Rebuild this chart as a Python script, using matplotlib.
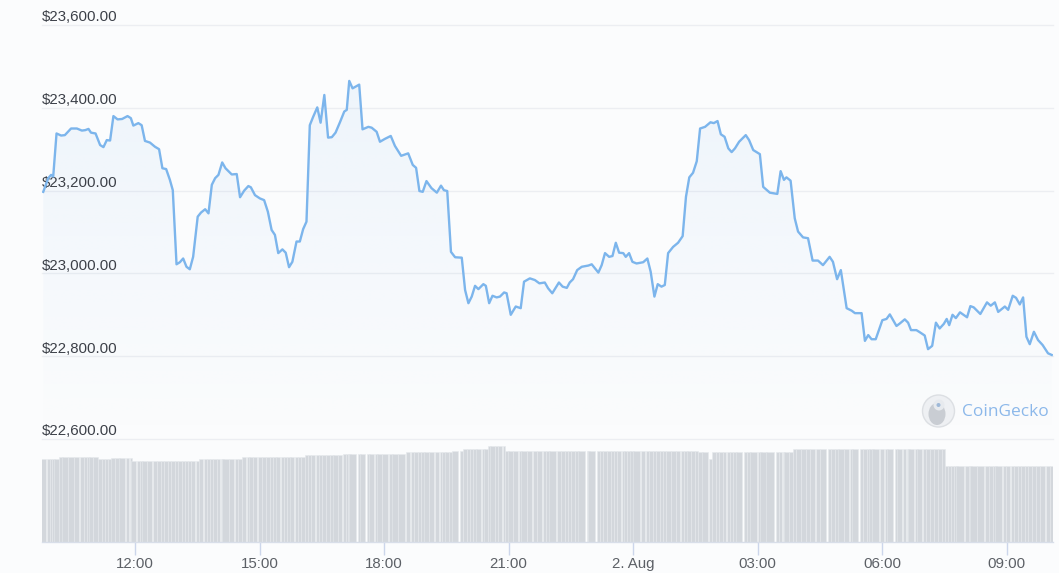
import matplotlib
matplotlib.use('Agg')
import matplotlib.pyplot as plt
import numpy as np
from matplotlib import font_manager
from matplotlib.patches import Circle, Ellipse

# ---------------- data ----------------
hours = [
    9.79, 9.91, 9.98, 10.03, 10.11, 10.22, 10.31, 10.46, 10.60, 10.72,
    10.80, 10.88, 10.94, 11.05, 11.16, 11.24, 11.32, 11.40, 11.48, 11.58,
    11.69, 11.82, 11.90, 11.96, 12.08, 12.16, 12.24, 12.36, 12.48, 12.58,
    12.66, 12.75, 12.84, 12.91, 13.00, 13.08, 13.16, 13.24, 13.32, 13.40,
    13.51, 13.59, 13.69, 13.77, 13.85, 13.93, 14.01, 14.10, 14.18, 14.33,
    14.45, 14.53, 14.63, 14.73, 14.79, 14.89, 15.01, 15.11, 15.20, 15.29,
    15.37, 15.45, 15.55, 15.63, 15.71, 15.79, 15.89, 15.97, 16.05, 16.13,
    16.21, 16.29, 16.39, 16.47, 16.56, 16.65, 16.74, 16.83, 16.94, 17.04,
    17.10, 17.16, 17.24, 17.40, 17.48, 17.62, 17.70, 17.82, 17.90, 18.02,
    18.16, 18.26, 18.41, 18.58, 18.69, 18.77, 18.85, 18.93, 19.02, 19.14,
    19.27, 19.37, 19.44, 19.52, 19.61, 19.71, 19.87, 19.95, 20.03, 20.11,
    20.19, 20.27, 20.39, 20.45, 20.53, 20.61, 20.71, 20.79, 20.89, 20.95,
    21.05, 21.17, 21.29, 21.37, 21.51, 21.63, 21.74, 21.87, 21.95, 22.05,
    22.21, 22.30, 22.40, 22.47, 22.55, 22.65, 22.76, 22.92, 23.00, 23.16,
    23.24, 23.32, 23.42, 23.50, 23.58, 23.66, 23.76, 23.82, 23.90, 23.98,
    24.08, 24.24, 24.34, 24.42, 24.51, 24.59, 24.68, 24.76, 24.84, 24.96,
    25.08, 25.19, 25.27, 25.35, 25.44, 25.53, 25.61, 25.73, 25.86, 25.94,
    26.03, 26.11, 26.20, 26.29, 26.37, 26.45, 26.55, 26.71, 26.79, 26.89,
    27.05, 27.13, 27.29, 27.47, 27.55, 27.63, 27.69, 27.79, 27.89, 27.97,
    28.09, 28.21, 28.32, 28.45, 28.57, 28.73, 28.81, 28.91, 29.00, 29.14,
    29.26, 29.34, 29.50, 29.58, 29.66, 29.74, 29.84, 30.00, 30.10, 30.18,
    30.34, 30.42, 30.54, 30.62, 30.69, 30.82, 30.90, 31.02, 31.10, 31.20,
    31.29, 31.38, 31.48, 31.55, 31.61, 31.69, 31.77, 31.87, 32.04, 32.12,
    32.20, 32.36, 32.52, 32.61, 32.71, 32.79, 32.95, 33.03, 33.14, 33.22,
    33.31, 33.39, 33.47, 33.55, 33.65, 33.75, 33.86, 33.99, 34.08,
]

prices = [
    23197, 23230, 23238, 23234, 23338, 23333, 23334, 23350, 23350, 23345,
    23346, 23349, 23340, 23338, 23310, 23305, 23322, 23321, 23380, 23372,
    23373, 23380, 23375, 23357, 23363, 23358, 23320, 23316, 23306, 23300,
    23254, 23252, 23226, 23201, 23022, 23027, 23036, 23016, 23010, 23040,
    23137, 23147, 23155, 23145, 23214, 23230, 23238, 23268, 23254, 23239,
    23240, 23184, 23200, 23211, 23208, 23189, 23181, 23177, 23149, 23105,
    23093, 23049, 23058, 23050, 23015, 23028, 23077, 23077, 23107, 23125,
    23358, 23378, 23401, 23364, 23431, 23328, 23329, 23340, 23366, 23391,
    23395, 23465, 23447, 23456, 23348, 23354, 23352, 23342, 23318, 23325,
    23332, 23308, 23284, 23290, 23262, 23255, 23199, 23197, 23223, 23206,
    23195, 23212, 23201, 23199, 23052, 23039, 23038, 22960, 22928, 22944,
    22970, 22962, 22974, 22970, 22928, 22946, 22942, 22944, 22954, 22952,
    22900, 22920, 22916, 22980, 22988, 22984, 22976, 22978, 22964, 22952,
    22978, 22968, 22965, 22978, 22986, 23008, 23016, 23019, 23022, 23002,
    23020, 23049, 23040, 23042, 23074, 23050, 23049, 23040, 23049, 23028,
    23024, 23027, 23036, 23004, 22944, 22974, 22968, 22972, 23049, 23064,
    23074, 23090, 23185, 23232, 23243, 23271, 23350, 23354, 23365, 23363,
    23368, 23336, 23330, 23302, 23293, 23302, 23318, 23334, 23322, 23298,
    23288, 23209, 23195, 23192, 23247, 23226, 23232, 23224, 23133, 23101,
    23087, 23085, 23031, 23031, 23020, 23040, 23028, 22986, 23008, 22916,
    22910, 22904, 22904, 22837, 22851, 22841, 22841, 22887, 22890, 22901,
    22873, 22879, 22889, 22881, 22863, 22863, 22858, 22850, 22817, 22825,
    22881, 22867, 22878, 22890, 22875, 22900, 22892, 22906, 22894, 22921,
    22918, 22902, 22930, 22922, 22930, 22907, 22920, 22912, 22946, 22941,
    22925, 22942, 22847, 22829, 22859, 22839, 22827, 22807, 22803,
]

# total volume, billions USD
volume = [
    26.6, 26.6, 26.6, 26.6, 26.6, 27.2, 27.2, 27.2, 27.2, 27.2,
    27.2, 27.2, 27.2, 27.2, 26.6, 26.6, 26.6, 26.6, 27.0, 27.0,
    27.0, 27.0, 27.0, 25.9, 25.9, 25.9, 25.9, 25.9, 25.9, 25.9,
    25.9, 25.9, 25.9, 25.9, 25.9, 25.9, 25.9, 25.9, 25.9, 25.9,
    25.9, 26.6, 26.6, 26.6, 26.6, 26.6, 26.6, 26.6, 26.6, 26.6,
    26.6, 26.6, 27.2, 27.2, 27.2, 27.2, 27.2, 27.2, 27.2, 27.2,
    27.2, 27.2, 27.2, 27.2, 27.2, 27.2, 27.2, 27.2, 27.2, 27.9,
    27.9, 27.9, 27.9, 27.9, 27.9, 27.9, 27.9, 27.9, 27.9, 28.3,
    28.3, 28.3, 28.3, 28.3, 28.3, 28.3, 28.3, 28.3, 28.3, 28.3,
    28.3, 28.3, 28.3, 28.8, 28.8, 28.8, 28.8, 28.8, 28.8, 28.8,
    28.8, 28.8, 28.8, 28.8, 28.8, 29.2, 29.2, 29.8, 29.8, 29.8,
    29.8, 29.8, 29.8, 29.8, 30.8, 30.8, 30.8, 30.8, 30.8, 29.2,
    29.2, 29.2, 29.2, 29.2, 29.2, 29.2, 29.2, 29.2, 29.2, 29.2,
    29.2, 29.2, 29.2, 29.2, 29.2, 29.2, 29.2, 29.2, 29.2, 29.2,
    29.2, 29.2, 29.2, 29.2, 29.2, 29.2, 29.2, 29.2, 29.2, 29.2,
    29.2, 29.2, 29.2, 29.2, 29.2, 29.2, 29.2, 29.2, 29.2, 29.2,
    29.2, 29.2, 29.2, 29.2, 29.2, 29.2, 28.9, 28.9, 26.5, 28.9,
    28.9, 28.9, 28.9, 28.9, 28.9, 28.9, 28.9, 28.9, 28.9, 28.9,
    28.9, 28.9, 28.9, 28.9, 28.9, 28.9, 28.9, 28.9, 29.7, 29.7,
    29.7, 29.7, 29.7, 29.7, 29.7, 29.7, 29.7, 29.7, 29.7, 29.7,
    29.7, 29.7, 29.7, 29.7, 29.7, 29.7, 29.7, 29.7, 29.7, 29.7,
    29.7, 29.7, 29.7, 29.7, 29.7, 29.7, 29.7, 29.7, 29.7, 29.7,
    29.7, 29.7, 29.7, 24.3, 24.3, 24.3, 24.3, 24.3, 24.3, 24.3,
    24.3, 24.3, 24.3, 24.3, 24.3, 24.3, 24.3, 24.3, 24.3, 24.3,
    24.3, 24.3, 24.3, 24.3, 24.3, 24.3, 24.3, 24.3, 24.3,
]

tick_hours = [12, 15, 18, 21, 24, 27, 30, 33]
tick_labels = ['12:00', '15:00', '18:00', '21:00', '2. Aug', '03:00', '06:00', '09:00']
price_ticks = [22600, 22800, 23000, 23200, 23400, 23600]
price_labels = ['$22,600.00', '$22,800.00', '$23,000.00', '$23,200.00', '$23,400.00', '$23,600.00']

# ---------------- style ----------------
available = {f.name for f in font_manager.fontManager.ttflist}
FONT = 'Liberation Sans Narrow' if 'Liberation Sans Narrow' in available else 'Liberation Sans'
plt.rcParams['font.family'] = [FONT, 'DejaVu Sans']

BG = '#fbfcfd'
LINE = '#7cb5ec'
GRID = '#eceef2'
VOLC = '#d3d7dc'

W, H = 1059, 573
fig = plt.figure(figsize=(W / 100, H / 100), dpi=100, facecolor=BG)

X0, X1 = 42, 1053
XLIM = (9.76, 34.11)

def frac_rect(left, top, right, bottom):
    return [left / W, 1 - bottom / H, (right - left) / W, (bottom - top) / H]

# price axis
ax = fig.add_axes(frac_rect(X0, 25, X1, 439))
ax.set_facecolor('none')
ax.set_xlim(*XLIM)
ax.set_ylim(22600, 23600)
for s in ax.spines.values():
    s.set_visible(False)
ax.set_xticks([])
ax.set_yticks([])
for v, lab in zip(price_ticks, price_labels):
    ax.axhline(v, color=GRID, lw=1.0, zorder=1, clip_on=False)
    ax.annotate(lab, xy=(0, v), xycoords=('axes fraction', 'data'),
                xytext=(0, 0.5), textcoords='offset points',
                ha='left', va='bottom', fontsize=10.8, color='#3c4048')

# gradient fill under the line
poly = ax.fill_between(hours, prices, 22600, facecolor='none', edgecolor='none')
grad = np.zeros((256, 2, 4))
rgb = matplotlib.colors.to_rgb(LINE)
grad[..., 0], grad[..., 1], grad[..., 2] = rgb
grad[..., 3] = np.linspace(0.0, 0.12, 256)[:, None]
im = ax.imshow(grad, extent=[XLIM[0], XLIM[1], 22600, 23600], origin='lower',
               aspect='auto', zorder=2, interpolation='bilinear')
im.set_clip_path(poly.get_paths()[0], transform=ax.transData)

ax.plot(hours, prices, color=LINE, lw=1.7, zorder=3, solid_joinstyle='round')

# volume axis
vax = fig.add_axes(frac_rect(X0, 439, X1, 541.7))
vax.set_facecolor('none')
vax.set_xlim(*XLIM)
vax.set_ylim(0, 33)
widths = np.diff(hours, append=hours[-1] + 0.08)
vax.bar(hours, volume, width=widths, color=VOLC, edgecolor='#e6e9ed',
        linewidth=0.4, align='center')
for s in ['top', 'left', 'right']:
    vax.spines[s].set_visible(False)
vax.spines['bottom'].set_color('#d8dee9')
vax.spines['bottom'].set_linewidth(1.0)
vax.set_yticks([])
vax.set_xticks(tick_hours)
vax.set_xticklabels(tick_labels, fontsize=10.8, color='#5c6066')
vax.tick_params(axis='x', length=9, width=1, color='#ccd6eb', pad=2)

# CoinGecko watermark (overlay in pixel space)
ov = fig.add_axes([0, 0, 1, 1])
ov.set_xlim(0, W)
ov.set_ylim(H, 0)
ov.axis('off')
ov.patch.set_alpha(0)
ov.add_patch(Circle((938.5, 411), 16, facecolor='#eef0f3', edgecolor='#dcdfe3', lw=1.0))
ov.add_patch(Ellipse((937, 414), 17, 22, facecolor='#c9cdd3', edgecolor='none'))
ov.add_patch(Circle((939, 405), 5.5, facecolor='#e7eaee', edgecolor='none'))
ov.add_patch(Circle((938.5, 405), 2.0, facecolor='#9fb9d8', edgecolor='none'))
ov.text(962, 412, 'CoinGecko', fontsize=12.5, color='#8cb8ea', ha='left', va='center',
        family=['Open Sans', 'DejaVu Sans'])

fig.savefig('out.png', dpi=100, facecolor=BG)
